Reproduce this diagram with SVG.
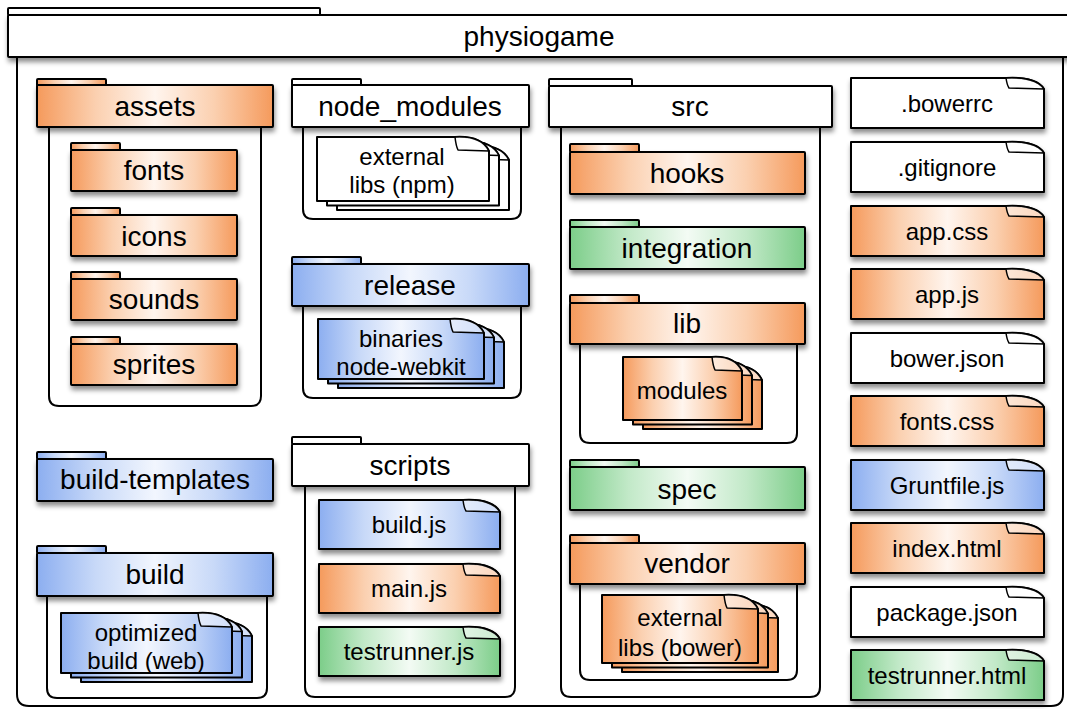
<svg xmlns="http://www.w3.org/2000/svg" xmlns:xlink="http://www.w3.org/1999/xlink" width="1067" height="709" viewBox="0 0 1067 709">
<style>
  .ln{stroke:#000;stroke-width:2;stroke-linejoin:round}
  .body{fill:#fff;stroke:#000;stroke-width:2}
  .w{fill:#fff}
  .o{fill:url(#gO)}
  .b{fill:url(#gB)}
  .g{fill:url(#gG)}
  .sh{filter:url(#ds)}
  .flap{fill:#fff;fill-opacity:0.6;stroke:#000;stroke-width:1.5;stroke-linejoin:round}
  text{font-family:"Liberation Sans",Arial,sans-serif;text-anchor:middle;fill:#000}
  .t1{font-size:28px}
  .t2{font-size:24px}
</style>
<defs>
  <filter id="ds" x="-10%" y="-20%" width="120%" height="160%">
    <feDropShadow dx="1" dy="4" stdDeviation="2.5" flood-color="#000" flood-opacity="0.45"/>
  </filter>
  <linearGradient id="gO" x1="0" y1="0" x2="1" y2="0">
    <stop offset="0" stop-color="#f59a5c"/>
    <stop offset="0.25" stop-color="#fbd0b0"/>
    <stop offset="0.5" stop-color="#fff5ee"/>
    <stop offset="0.75" stop-color="#fbd0b0"/>
    <stop offset="1" stop-color="#f59a5c"/>
  </linearGradient>
  <linearGradient id="gB" x1="0" y1="0" x2="1" y2="0">
    <stop offset="0" stop-color="#8caef0"/>
    <stop offset="0.25" stop-color="#c8d9f8"/>
    <stop offset="0.5" stop-color="#f2f6fe"/>
    <stop offset="0.75" stop-color="#c8d9f8"/>
    <stop offset="1" stop-color="#8caef0"/>
  </linearGradient>
  <linearGradient id="gG" x1="0" y1="0" x2="1" y2="0">
    <stop offset="0" stop-color="#7ccd89"/>
    <stop offset="0.25" stop-color="#c2e9c8"/>
    <stop offset="0.5" stop-color="#f3fbf4"/>
    <stop offset="0.75" stop-color="#c2e9c8"/>
    <stop offset="1" stop-color="#7ccd89"/>
  </linearGradient>
  <g id="fR">
    <path class="ln" d="M0,0 H155 C174,-1 188,3 193,11 V50 H0 Z"/>
    <path class="flap" d="M155,0 Q156,7 158,10 L193,11 C188,3 174,-1 155,0 Z"/>
  </g>
  <g id="fS">
    <path class="ln" d="M0,0 H144 C162,-1 176,3 181,12 V49 H0 Z"/>
    <path class="flap" d="M144,0 Q145,8 147,11 L181,12 C176,3 162,-1 144,0 Z"/>
  </g>
  <g id="sNpm">
    <path class="ln" d="M0,0 H138 C155,-1 167,4 172,14 V64 H0 Z"/>
    <path class="flap" d="M138,0 Q139,9 141,13 L172,14 C167,4 155,-1 138,0 Z"/>
  </g>
  <g id="sRel">
    <path class="ln" d="M0,0 H132 C149,-1 161,4 166,14 V60 H0 Z"/>
    <path class="flap" d="M132,0 Q133,9 135,13 L166,14 C161,4 149,-1 132,0 Z"/>
  </g>
  <g id="sBld">
    <path class="ln" d="M0,0 H137 C154,-1 166,4 171,14 V60 H0 Z"/>
    <path class="flap" d="M137,0 Q138,9 140,13 L171,14 C166,4 154,-1 137,0 Z"/>
  </g>
  <g id="sMod">
    <path class="ln" d="M0,0 H89 C104,-1 114,4 119,14 V63 H0 Z"/>
    <path class="flap" d="M89,0 Q90,9 92,13 L119,14 C114,4 104,-1 89,0 Z"/>
  </g>
  <g id="sVen">
    <path class="ln" d="M0,0 H122 C139,-1 151,4 156,14 V68 H0 Z"/>
    <path class="flap" d="M122,0 Q123,9 125,13 L156,14 C151,4 139,-1 122,0 Z"/>
  </g>
</defs>

<g id="physiogame">
  <path class="body" d="M17,57 V694 Q17,706 29,706 H1051 Q1063,706 1063,694 V57"/>
  <rect class="ln w" x="8" y="8" width="312" height="7" rx="1"/>
  <rect class="ln w sh" x="8" y="15" width="1072" height="42" rx="1"/>
  <text class="t1" x="539" y="46">physiogame</text>
</g>

<g id="assets">
  <path class="body" d="M49,127 V396 Q49,406 59,406 H251 Q261,406 261,396 V127"/>
  <rect class="ln o" x="37" y="79" width="69" height="7" rx="1"/>
  <rect class="ln o sh" x="37" y="85" width="236" height="42" rx="1"/>
  <text class="t1" x="155" y="116">assets</text>
</g>
<g id="fonts">
  <rect class="ln o" x="71" y="143" width="49" height="7" rx="1"/>
  <rect class="ln o sh" x="71" y="150" width="166" height="41" rx="1"/>
  <text class="t1" x="154" y="180">fonts</text>
</g>
<g id="icons">
  <rect class="ln o" x="71" y="208" width="49" height="7" rx="1"/>
  <rect class="ln o sh" x="71" y="215" width="166" height="41" rx="1"/>
  <text class="t1" x="154" y="246">icons</text>
</g>
<g id="sounds">
  <rect class="ln o" x="71" y="272" width="49" height="7" rx="1"/>
  <rect class="ln o sh" x="71" y="279" width="166" height="41" rx="1"/>
  <text class="t1" x="154" y="309">sounds</text>
</g>
<g id="sprites">
  <rect class="ln o" x="71" y="337" width="49" height="7" rx="1"/>
  <rect class="ln o sh" x="71" y="344" width="166" height="41" rx="1"/>
  <text class="t1" x="154" y="374">sprites</text>
</g>

<g id="node_modules">
  <path class="body" d="M303,127 V209 Q303,219 313,219 H511 Q521,219 521,209 V127"/>
  <rect class="ln w" x="292" y="79" width="69" height="7" rx="1"/>
  <rect class="ln w sh" x="292" y="85" width="237" height="42" rx="1"/>
  <text class="t1" x="410" y="116">node_modules</text>
</g>
<g id="external-npm">
  <use xlink:href="#sNpm" class="w" transform="translate(337,146)"/>
  <use xlink:href="#sNpm" class="w" transform="translate(327,141.5)"/>
  <use xlink:href="#sNpm" class="w" transform="translate(317,137)"/>
  <text class="t2" x="402" y="165">external</text>
  <text class="t2" x="402" y="192.5">libs (npm)</text>
</g>

<g id="release">
  <path class="body" d="M303,306 V388 Q303,398 313,398 H511 Q521,398 521,388 V306"/>
  <rect class="ln b" x="292" y="257" width="69" height="7" rx="1"/>
  <rect class="ln b sh" x="292" y="264" width="237" height="42" rx="1"/>
  <text class="t1" x="410" y="295">release</text>
</g>
<g id="binaries">
  <use xlink:href="#sRel" class="b" transform="translate(338,328)"/>
  <use xlink:href="#sRel" class="b" transform="translate(328,323.5)"/>
  <use xlink:href="#sRel" class="b" transform="translate(318,319)"/>
  <text class="t2" x="401" y="346.5">binaries</text>
  <text class="t2" x="401" y="374.5">node-webkit</text>
</g>

<g id="build-templates">
  <rect class="ln b" x="37" y="452" width="69" height="7" rx="1"/>
  <rect class="ln b sh" x="37" y="459" width="236" height="42" rx="1"/>
  <text class="t1" x="155" y="489">build-templates</text>
</g>

<g id="build">
  <path class="body" d="M47,596 V688 Q47,698 57,698 H257 Q267,698 267,688 V596"/>
  <rect class="ln b" x="37" y="546" width="69" height="7" rx="1"/>
  <rect class="ln b sh" x="37" y="553" width="236" height="43" rx="1"/>
  <text class="t1" x="155" y="584">build</text>
</g>
<g id="optimized">
  <use xlink:href="#sBld" class="b" transform="translate(81,622)"/>
  <use xlink:href="#sBld" class="b" transform="translate(71,617.5)"/>
  <use xlink:href="#sBld" class="b" transform="translate(61,613)"/>
  <text class="t2" x="146" y="640.5">optimized</text>
  <text class="t2" x="146" y="668.5">build (web)</text>
</g>

<g id="scripts">
  <path class="body" d="M305,486 V687 Q305,697 315,697 H505 Q515,697 515,687 V486"/>
  <rect class="ln w" x="292" y="437" width="69" height="7" rx="1"/>
  <rect class="ln w sh" x="292" y="444" width="237" height="42" rx="1"/>
  <text class="t1" x="410" y="475">scripts</text>
</g>
<g id="build-js">
  <use xlink:href="#fS" class="b sh" transform="translate(319,500)"/>
  <text class="t2" x="409" y="533">build.js</text>
</g>
<g id="main-js">
  <use xlink:href="#fS" class="o sh" transform="translate(319,564)"/>
  <text class="t2" x="409" y="597">main.js</text>
</g>
<g id="testrunner-js">
  <use xlink:href="#fS" class="g sh" transform="translate(319,627)"/>
  <text class="t2" x="409" y="660">testrunner.js</text>
</g>

<g id="src">
  <path class="body" d="M561,127 V687 Q561,697 571,697 H810 Q820,697 820,687 V127"/>
  <rect class="ln w" x="549" y="79" width="83" height="7" rx="1"/>
  <rect class="ln w sh" x="549" y="86" width="283" height="41" rx="1"/>
  <text class="t1" x="690" y="116">src</text>
</g>
<g id="hooks">
  <rect class="ln o" x="570" y="144" width="69" height="8" rx="1"/>
  <rect class="ln o sh" x="570" y="152" width="235" height="42" rx="1"/>
  <text class="t1" x="687" y="183">hooks</text>
</g>
<g id="integration">
  <rect class="ln g" x="570" y="220" width="69" height="7" rx="1"/>
  <rect class="ln g sh" x="570" y="227" width="235" height="42" rx="1"/>
  <text class="t1" x="687" y="258">integration</text>
</g>
<g id="lib">
  <path class="body" d="M580,344 V433 Q580,443 590,443 H787 Q797,443 797,433 V344"/>
  <rect class="ln o" x="570" y="295" width="69" height="8" rx="1"/>
  <rect class="ln o sh" x="570" y="303" width="235" height="41" rx="1"/>
  <text class="t1" x="687" y="333">lib</text>
</g>
<g id="modules">
  <use xlink:href="#sMod" class="o" transform="translate(643,366)"/>
  <use xlink:href="#sMod" class="o" transform="translate(633,361.5)"/>
  <use xlink:href="#sMod" class="o" transform="translate(623,357)"/>
  <text class="t2" x="682" y="398.5">modules</text>
</g>
<g id="spec">
  <rect class="ln g" x="570" y="460" width="69" height="7" rx="1"/>
  <rect class="ln g sh" x="570" y="467" width="235" height="43" rx="1"/>
  <text class="t1" x="687" y="499">spec</text>
</g>
<g id="vendor">
  <path class="body" d="M580,584 V670 Q580,680 590,680 H787 Q797,680 797,670 V584"/>
  <rect class="ln o" x="570" y="535" width="69" height="8" rx="1"/>
  <rect class="ln o sh" x="570" y="543" width="235" height="41" rx="1"/>
  <text class="t1" x="687" y="573">vendor</text>
</g>
<g id="external-bower">
  <use xlink:href="#sVen" class="o" transform="translate(622,604)"/>
  <use xlink:href="#sVen" class="o" transform="translate(612,599.5)"/>
  <use xlink:href="#sVen" class="o" transform="translate(602,595)"/>
  <text class="t2" x="680" y="625.5">external</text>
  <text class="t2" x="680" y="655.5">libs (bower)</text>
</g>

<g id="bowerrc">
  <use xlink:href="#fR" class="w sh" transform="translate(851,78)"/>
  <text class="t2" x="947" y="112">.bowerrc</text>
</g>
<g id="gitignore">
  <use xlink:href="#fR" class="w sh" transform="translate(851,142)"/>
  <text class="t2" x="947" y="176">.gitignore</text>
</g>
<g id="app-css">
  <use xlink:href="#fR" class="o sh" transform="translate(851,206)"/>
  <text class="t2" x="947" y="240">app.css</text>
</g>
<g id="app-js">
  <use xlink:href="#fR" class="o sh" transform="translate(851,269)"/>
  <text class="t2" x="947" y="303">app.js</text>
</g>
<g id="bower-json">
  <use xlink:href="#fR" class="w sh" transform="translate(851,333)"/>
  <text class="t2" x="947" y="367">bower.json</text>
</g>
<g id="fonts-css">
  <use xlink:href="#fR" class="o sh" transform="translate(851,396)"/>
  <text class="t2" x="947" y="430">fonts.css</text>
</g>
<g id="gruntfile-js">
  <use xlink:href="#fR" class="b sh" transform="translate(851,460)"/>
  <text class="t2" x="947" y="494">Gruntfile.js</text>
</g>
<g id="index-html">
  <use xlink:href="#fR" class="o sh" transform="translate(851,523)"/>
  <text class="t2" x="947" y="557">index.html</text>
</g>
<g id="package-json">
  <use xlink:href="#fR" class="w sh" transform="translate(851,587)"/>
  <text class="t2" x="947" y="621">package.json</text>
</g>
<g id="testrunner-html">
  <use xlink:href="#fR" class="g sh" transform="translate(851,650)"/>
  <text class="t2" x="947" y="684">testrunner.html</text>
</g>

<g id="connectors"/>
</svg>
